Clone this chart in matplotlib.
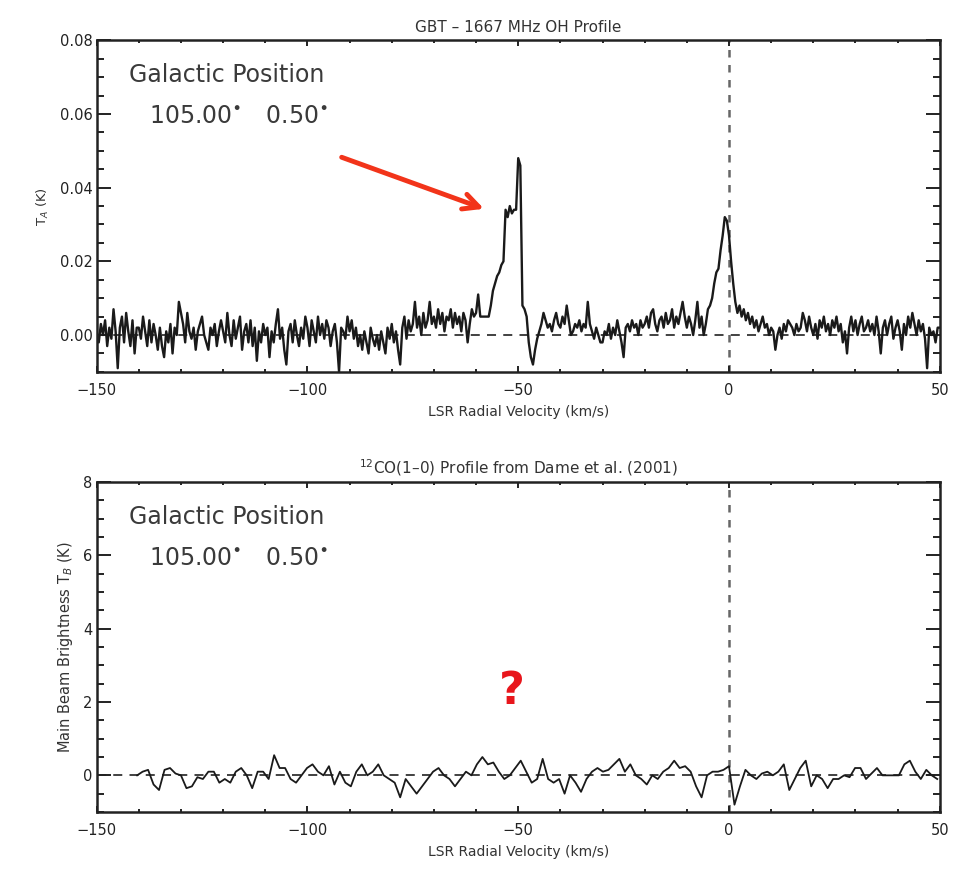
import numpy as np
import matplotlib
matplotlib.use("Agg")
from matplotlib import pyplot as plt
from matplotlib.ticker import MultipleLocator, FormatStrFormatter

# OH 1667 MHz spectrum, 0.5 km/s channels from -150 to +50, values in mK
oh_v0, oh_dv = -150.0, 0.5
oh_mk = [
    1, -2, 3, 0, 4, -3, 2, -1, 7, 1, -9, 2, 5, -2, 6, 1, -3, 4, -5, 2,
    2, -1, 5, 1, -3, 4, -2, 3, 0, -4, 2, -3, -6, 1, -2, 3, -5, 2, 0, 9,
    6, 3, -2, 6, 1, -1, 2, -4, 1, 3, 5, 0, -2, -4, 2, 0, 3, -3, 1, 4,
    1, -2, 6, 0, -3, 4, -1, 2, 5, -4, 1, 3, -2, 4, -3, 2, -7, 1, -2, 3,
    0, 2, -6, 1, -2, 3, 7, -1, 2, -4, -8, 1, 3, -2, 4, 0, -3, 2, -1, 5,
    2, -3, 4, 1, -2, 5, 0, 3, -1, 4, 2, -3, 1, 3, -2, -10, 2, 1, -1, 5,
    1, 4, -1, 2, -3, 0, -4, 1, -2, -5, 2, -1, -3, 0, -4, 1, -2, -5, 2, -1,
    3, -2, 1, -4, -8, 2, 5, -1, 4, 1, 3, 9, 2, 5, 0, 6, 2, 4, 9, 3,
    5, 2, 7, 3, 6, 1, 5, 4, 7, 2, 6, 3, 5, 1, 6, 4, -2, 3, 7, 5,
    6, 11, 5, 5, 5, 5, 5, 8, 12, 14, 16, 17, 19, 20, 34, 32, 35, 33, 34, 34,
    48, 46, 8, 7, 5, -2, -6, -8, -4, -1, 1, 3, 6, 4, 2, 3, 1, 4, 6, 3,
    2, 5, 3, 8, 4, 0, 1, 3, 2, 4, 1, 3, 2, 9, 3, 1, -1, 2, 0, -2,
    -2, 1, 0, 3, -1, 2, 0, 4, 1, -2, -6, 2, 3, 1, 4, 2, 3, 0, 4, 2,
    3, 5, 2, 6, 7, 3, 1, 4, 5, 2, 6, 3, 4, 7, 2, 5, 3, 6, 9, 5,
    2, 5, 3, 0, 4, 9, 2, 5, 0, 3, 7, 8, 10, 14, 17, 18, 23, 27, 32, 31,
    27, 20, 14, 9, 6, 8, 5, 7, 4, 6, 3, 5, 2, 4, 1, 3, 5, 2, 3, 0,
    2, 1, -4, 0, 2, -1, 3, 1, 4, 3, 2, 0, 3, 1, 2, 6, 4, 1, 5, 2,
    0, 3, -1, 4, 2, 5, 1, 3, 0, 4, 2, 5, 1, 3, -2, 1, -5, 2, 5, 1,
    4, 0, 3, 5, 1, 2, 4, 1, 3, 0, 5, 1, -5, 2, 4, 0, 3, 5, -1, 2,
    4, 1, -4, 3, 0, 5, 2, 6, 3, 0, 4, 1, 3, -1, -9, 2, 0, 1, -2, 2,
    2,
]

# 12CO spectrum (Dame et al. 2001), 1.3 km/s channels starting at -140.4, K
co_v0, co_dv = -140.4, 1.3
co_k = [
    0.0, 0.1, 0.15, -0.25, -0.4, 0.15, 0.2, 0.05, 0.0, -0.35,
    -0.3, -0.05, -0.1, 0.1, 0.1, -0.2, -0.1, -0.2, 0.1, 0.2,
    0.0, -0.35, 0.1, 0.1, -0.1, 0.55, 0.2, 0.2, -0.1, -0.2,
    0.0, 0.2, 0.3, 0.1, 0.0, 0.25, -0.25, 0.1, -0.2, -0.3,
    0.1, 0.3, 0.0, 0.1, 0.3, 0.0, -0.1, -0.2, -0.6, -0.1,
    -0.3, -0.5, -0.3, -0.1, 0.1, 0.2, 0.0, -0.1, -0.3, -0.1,
    0.1, 0.0, 0.3, 0.5, 0.3, 0.35, 0.1, -0.1, 0.0, 0.2,
    0.4, 0.1, -0.2, -0.1, 0.45, -0.1, -0.2, -0.1, -0.5, 0.0,
    -0.2, -0.45, -0.1, 0.1, 0.2, 0.1, 0.15, 0.3, 0.45, 0.1,
    0.3, 0.0, -0.1, -0.25, 0.0, -0.1, 0.1, 0.2, 0.4, 0.2,
    0.25, 0.1, -0.3, -0.6, 0.0, 0.1, 0.1, 0.15, 0.25, -0.8,
    -0.3, 0.15, 0.0, -0.1, 0.05, 0.1, 0.0, 0.1, 0.3, -0.4,
    -0.1, 0.2, 0.4, -0.3, 0.0, -0.1, -0.35, -0.1, -0.1, 0.0,
    -0.05, 0.2, 0.2, -0.1, 0.05, 0.2, 0.0, 0.0, 0.0, 0.0,
    0.3, 0.4, 0.1, -0.1, 0.15, 0.0, -0.1,
]

titles = ["GBT \u2013 1667 MHz OH Profile",
          "$^{12}$CO(1\u20130) Profile from Dame et al. (2001)"]
ylabels = ["T$_A$ (K)", "Main Beam Brightness T$_B$ (K)"]
xlabel = "LSR Radial Velocity (km/s)"
pos_title = "Galactic Position"
pos_coords = "105.00$^{\\bullet}$   0.50$^{\\bullet}$"

oh_v = oh_v0 + oh_dv * np.arange(len(oh_mk))
oh_t = np.array(oh_mk) / 1000.0
co_v = co_v0 + co_dv * np.arange(len(co_k))
co_t = np.array(co_k)

fig = plt.figure(figsize=(9.57, 8.75), dpi=100)
ax1 = fig.add_axes([0.101, 0.575, 0.881, 0.379])
ax2 = fig.add_axes([0.101, 0.072, 0.881, 0.377])

ax1.plot(oh_v, oh_t, color="#1a1a1a", lw=1.7)
ax2.plot(co_v, co_t, color="#1a1a1a", lw=1.3)

ylims = [(-0.01, 0.08), (-1, 8)]
ymaj = [0.02, 2]
ymin = [0.005, 0.5]
yfmt = ["%.2f", "%d"]
ylab_size = [9.5, 10.5]

for i, ax in enumerate([ax1, ax2]):
    ax.axhline(0, color="#333333", lw=1.3, ls=(0, (5, 4)), zorder=1)
    ax.axvline(0, color="#666666", lw=1.8, ls=(0, (3, 3)), zorder=1)
    ax.set_xlim(-150, 50)
    ax.set_ylim(*ylims[i])
    ax.xaxis.set_major_locator(MultipleLocator(50))
    ax.xaxis.set_minor_locator(MultipleLocator(10))
    ax.yaxis.set_major_locator(MultipleLocator(ymaj[i]))
    ax.yaxis.set_minor_locator(MultipleLocator(ymin[i]))
    ax.yaxis.set_major_formatter(FormatStrFormatter(yfmt[i]))
    ax.tick_params(which="both", direction="in", top=True, right=True,
                   labelsize=10.5, width=1.4, colors="#222222")
    ax.tick_params(axis="x", which="major", length=4, pad=8)
    ax.tick_params(axis="x", which="minor", length=2.5)
    ax.tick_params(axis="y", which="major", length=10, pad=3)
    ax.tick_params(axis="y", which="minor", length=5)
    for s in ax.spines.values():
        s.set_linewidth(1.8)
        s.set_color("#222222")
    ax.set_title(titles[i], fontsize=11, color="#333333", pad=6)
    ax.set_xlabel(xlabel, fontsize=10, color="#333333", labelpad=5)
    ax.set_ylabel(ylabels[i], fontsize=ylab_size[i], color="#333333",
                  labelpad=6)
    ax.text(0.038, 0.93, pos_title, transform=ax.transAxes, fontsize=17,
            color="#3a3a3a", va="top", ha="left")
    ax.text(0.062, 0.75, pos_coords, transform=ax.transAxes, fontsize=17,
            color="#3a3a3a", va="baseline", ha="left")

# red arrow pointing at the -55 km/s shoulder
ax1.annotate("", xy=(-57.5, 0.034), xytext=(-92.5, 0.0485),
             arrowprops=dict(arrowstyle="->", color="#f2341a", lw=3.5,
                             mutation_scale=28))

ax2.text(-51.5, 2.3, "?", fontsize=32, fontweight="bold", color="#e8161c",
         ha="center", va="center")

plt.savefig("out.png", dpi=100)
